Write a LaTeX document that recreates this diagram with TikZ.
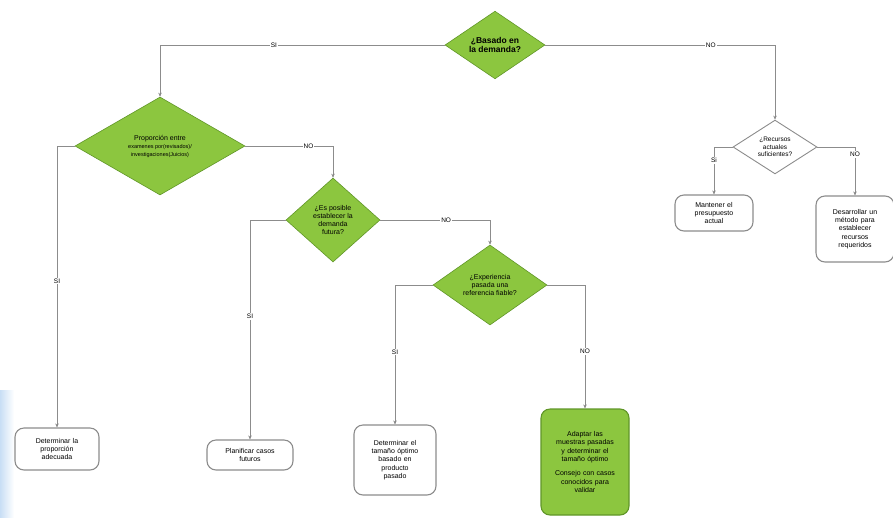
\documentclass[tikz,border=0pt]{standalone}
\usepackage{fontspec}
\setmainfont{Liberation Sans}
\usetikzlibrary{shapes.geometric,arrows.meta}
\definecolor{gfill}{RGB}{140,198,63}
\definecolor{gdraw}{RGB}{96,150,40}
\definecolor{lgrey}{RGB}{140,140,140}
\definecolor{bgblue}{RGB}{200,222,245}
\tikzset{
  dia/.style={diamond, draw=gdraw, fill=gfill, line width=0.6pt, inner sep=0pt, align=center, font=\fontsize{7}{8}\selectfont},
  wdia/.style={diamond, draw=lgrey, fill=white, line width=0.9pt, inner sep=0pt, align=center, font=\fontsize{6.5}{7.5}\selectfont},
  term/.style={rectangle, rounded corners=9pt, draw=lgrey, fill=white, line width=1.1pt, inner sep=1pt, align=center, font=\fontsize{7}{8.3}\selectfont},
  gterm/.style={term, draw=gdraw, fill=gfill},
  conn/.style={draw=lgrey, line width=1pt, -{Stealth[length=4pt,width=3.5pt,fill=black!70]}},
  lbl/.style={fill=white, inner sep=1pt, font=\fontsize{6.5}{7}\selectfont}
}
\begin{document}
\begin{tikzpicture}[x=1pt,y=-1pt]
\useasboundingbox (0,0) rectangle (893,517);
\shade[left color=bgblue, right color=white] (0,390) rectangle (14,517);
% decisions
\node[dia, minimum width=100, minimum height=60, font=\bfseries\fontsize{8.5}{9.5}\selectfont] (d1) at (495,45) {¿Basado en\\la demanda?};
\node[dia, minimum width=170, minimum height=98] (d2) at (160,146) {Proporción entre\\{\fontsize{5.5}{7}\selectfont examenes por(revisados)/}\\{\fontsize{5.5}{7}\selectfont investigaciones(Juicios)}};
\node[dia, minimum width=94, minimum height=84] (d3) at (333,220) {¿Es posible\\establecer la\\demanda\\futura?};
\node[dia, minimum width=114, minimum height=80] (d4) at (490,285) {¿Experiencia\\pasada una\\referencia fiable?};
\node[wdia, minimum width=84, minimum height=50] (d5) at (775,147) {¿Recursos\\actuales\\suficientes?};
% terminators
\node[term, minimum width=84, minimum height=42, text width=78pt] (t1) at (57,449) {Determinar la\\proporción\\adecuada};
\node[term, minimum width=86, minimum height=30, text width=80pt] (t2) at (250,455) {Planificar casos\\futuros};
\node[term, minimum width=82, minimum height=70, text width=78pt] (t3) at (395,460) {Determinar el\\tamaño óptimo\\basado en\\producto\\pasado};
\node[gterm, minimum width=88, minimum height=106, text width=86pt] (t4) at (585,462) {Adaptar las\\muestras pasadas\\y determinar el\\tamaño óptimo\\[6pt]Consejo con casos\\conocidos para\\validar};
\node[term, minimum width=78, minimum height=36, text width=74pt] (t5) at (714,213) {Mantener el\\presupuesto\\actual};
\node[term, minimum width=78, minimum height=66, text width=76pt] (t6) at (855,229) {Desarrollar un\\método para\\establecer\\recursos\\requeridos};
% connectors
\draw[conn] (d1.west) -| node[lbl, pos=0.3]{SI} (d2.north);
\draw[conn] (d1.east) -| node[lbl, pos=0.36]{NO} (d5.north);
\draw[conn] (d2.west) -| node[lbl, pos=0.74]{SI} (t1.north);
\draw[conn] (d2.east) -| node[lbl, pos=0.36]{NO} (d3.north);
\draw[conn] (d3.west) -| node[lbl, pos=0.72]{SI} (t2.north);
\draw[conn] (d3.east) -| node[lbl, pos=0.3]{NO} (d4.north);
\draw[conn] (d4.west) -| node[lbl, pos=0.74]{SI} (t3.north);
\draw[conn] (d4.east) -| node[lbl, pos=0.77]{NO} (t4.north);
\draw[conn] (d5.west) -| node[lbl, pos=0.64]{Si} (t5.north);
\draw[conn] (d5.east) -| node[lbl, pos=0.58]{NO} (t6.north);
\end{tikzpicture}
\end{document}
